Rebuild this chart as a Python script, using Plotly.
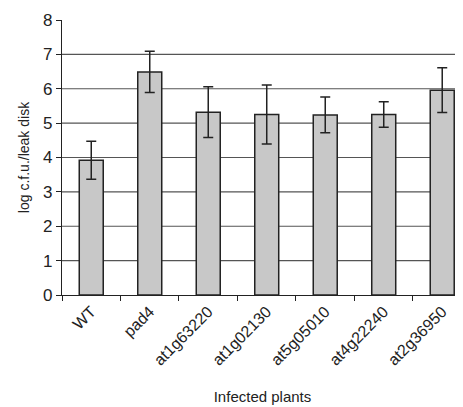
import plotly.graph_objects as go

categories = ["WT", "pad4", "at1g63220", "at1g02130", "at5g05010", "at4g22240", "at2g36950"]
values = [3.92, 6.49, 5.32, 5.25, 5.24, 5.25, 5.96]
errors = [0.55, 0.60, 0.74, 0.86, 0.52, 0.37, 0.65]
y_ticks = [0, 1, 2, 3, 4, 5, 6, 7, 8]
grid_levels = [1, 2, 3, 4, 5, 6, 7]

font = "Liberation Sans, Arial, Helvetica, sans-serif"

fig = go.Figure()
fig.add_trace(go.Bar(
    x=categories, y=values,
    marker=dict(color="#c8c8c8", line=dict(color="#222222", width=1.5)),
    width=0.41,
    error_y=dict(type="data", array=errors, visible=True, color="#222222",
                 thickness=1.5, width=5),
))

for g in grid_levels:
    fig.add_shape(type="line", xref="paper", yref="y", x0=0, x1=1, y0=g, y1=g,
                  line=dict(color="#555555", width=1.2), layer="below")

# page body adds an 8px offset; margins compensate for it
fig.update_layout(
    width=463, height=407,
    margin=dict(l=54, r=8, t=12, b=120),
    plot_bgcolor="white", paper_bgcolor="white",
    showlegend=False,
    font=dict(family=font, color="#222222"),
)
fig.update_xaxes(
    range=[-0.5, 6.355], automargin=False,
    showline=True, linecolor="#222222", linewidth=1.2,
    ticks="outside", tickson="boundaries", ticklen=5, tickcolor="#222222",
    tickangle=-45, tickfont=dict(size=16),
    title=dict(text="Infected plants", font=dict(size=15), standoff=23),
    showgrid=False,
)
fig.update_yaxes(
    range=[0, 8], tickvals=y_ticks, automargin=False,
    showline=True, linecolor="#222222", linewidth=1.2,
    ticks="outside", ticklen=5, tickcolor="#222222",
    tickfont=dict(size=17),
    title=dict(text="log c.f.u./leak disk", font=dict(size=14), standoff=10),
    showgrid=False, zeroline=False,
)

fig.write_html("out.html")
